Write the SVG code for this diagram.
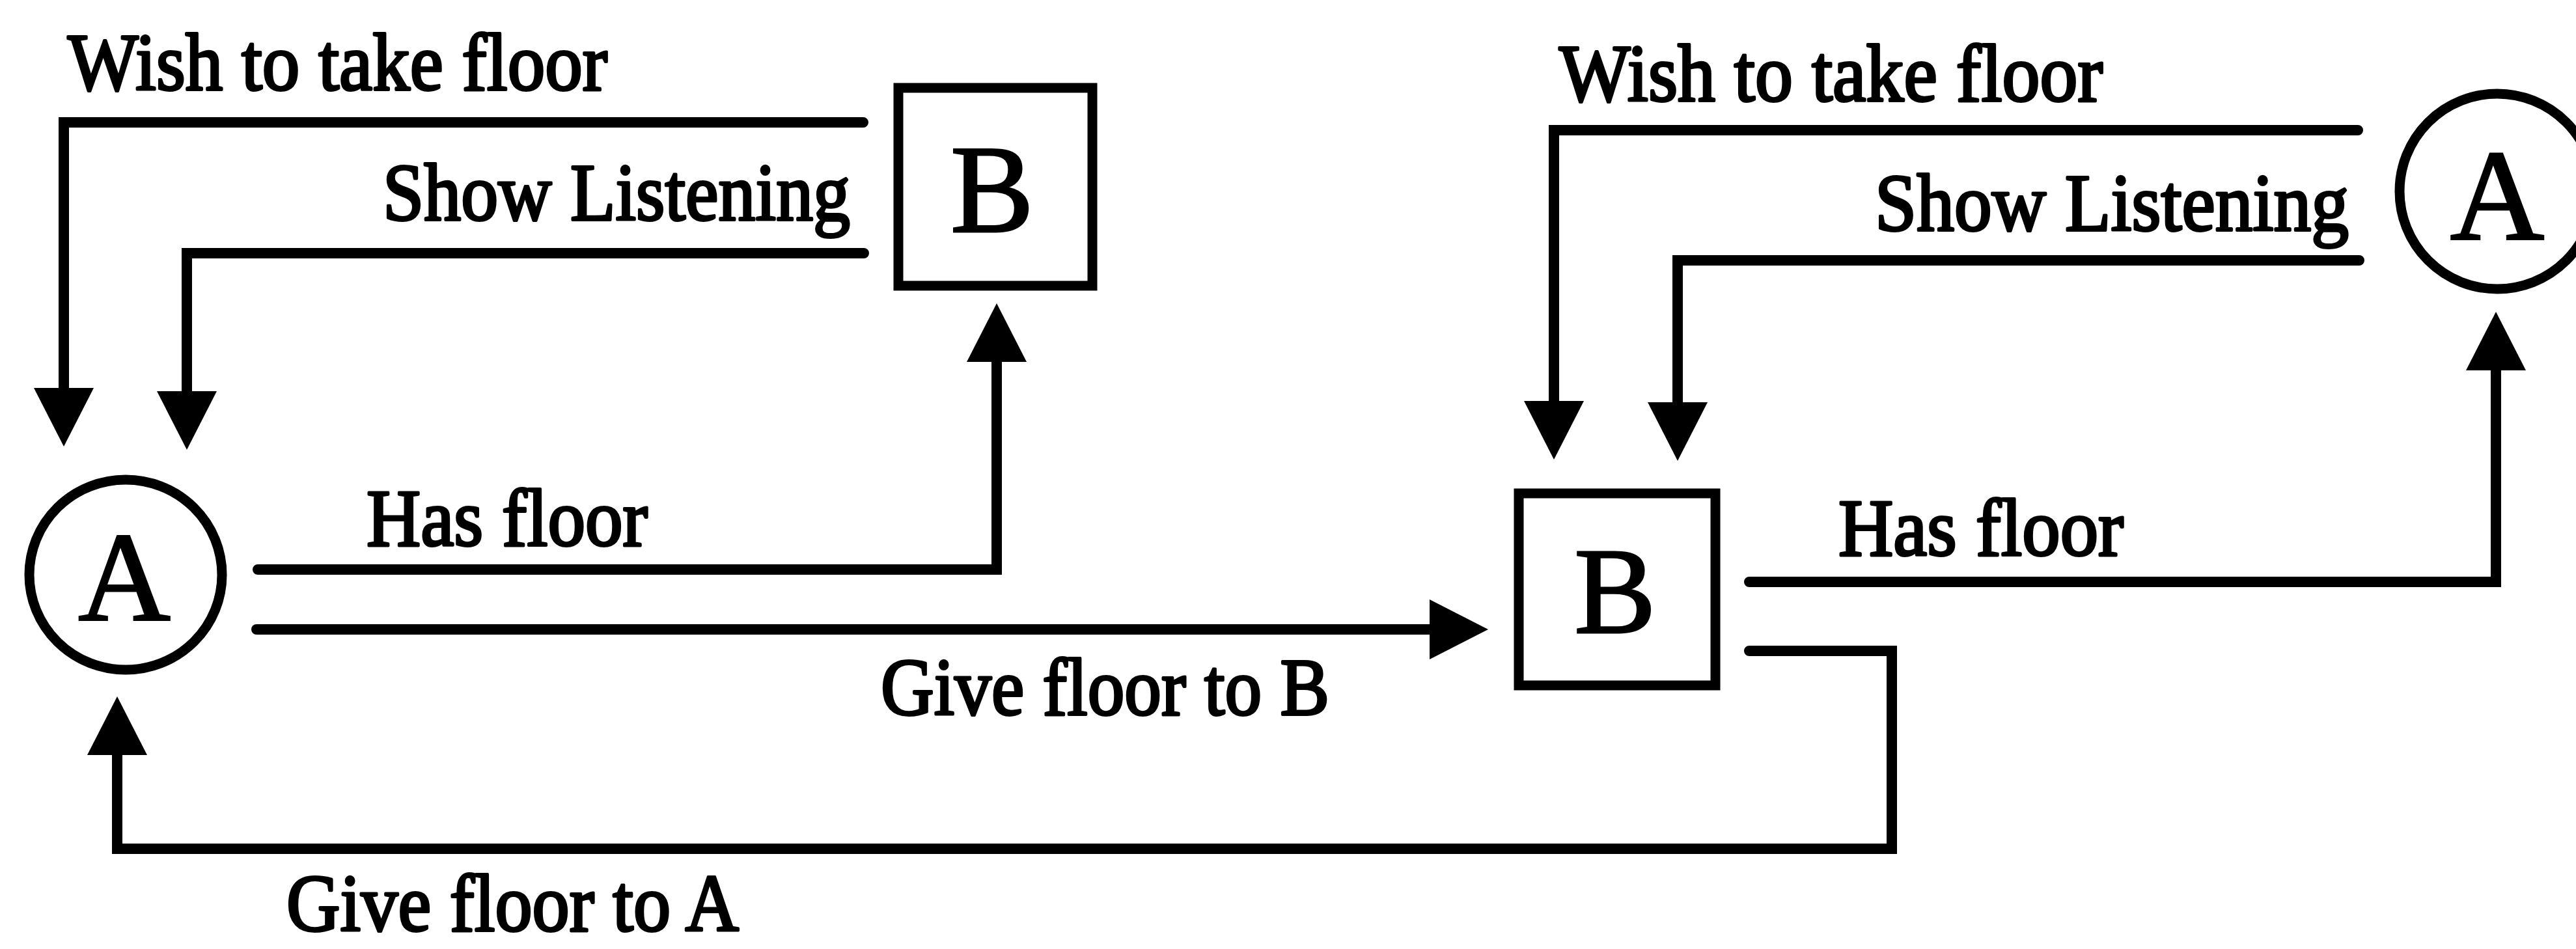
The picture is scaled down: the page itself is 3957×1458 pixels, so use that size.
<svg xmlns="http://www.w3.org/2000/svg" width="3957" height="1458" viewBox="0 0 3957 1458">
  <style>
    .bg { fill: #ffffff; }
    .shape { fill: none; stroke: #000000; stroke-width: 15; }
    .wire { fill: none; stroke: #000000; stroke-width: 16; stroke-linecap: round; stroke-linejoin: miter; }
    .label { font-family: "Liberation Serif", "Times New Roman", serif; font-size: 124px; fill: #000000; stroke: #000000; stroke-width: 4; stroke-linejoin: round; }
    .glyph { font-family: "Liberation Serif", "Times New Roman", serif; fill: #000000; stroke: #000000; stroke-width: 3; text-anchor: middle; }
  </style>
  <defs>
    <marker id="head" viewBox="0 0 90 92" refX="0" refY="46" markerWidth="90" markerHeight="92" markerUnits="userSpaceOnUse" orient="auto">
      <path d="M0,0 L90,46 L0,92 Z" fill="#000000"/>
    </marker>
  </defs>

  <rect class="bg" x="0" y="0" width="3957" height="1458"/>

  <!-- left cluster: A holds the floor, B listens -->
  <g id="node-a-left">
    <ellipse class="shape" cx="193" cy="883" rx="148" ry="146"/>
    <text class="glyph" x="191" y="953" font-size="196">A</text>
  </g>
  <g id="node-b-top">
    <rect class="shape" x="1380" y="135" width="298" height="304"/>
    <text class="glyph" x="1524" y="356" font-size="192">B</text>
  </g>

  <!-- right cluster: B holds the floor, A listens -->
  <g id="node-b-mid">
    <rect class="shape" x="2333" y="758" width="302" height="295"/>
    <text class="glyph" x="2481" y="972" font-size="188">B</text>
  </g>
  <g id="node-a-right">
    <circle class="shape" cx="3836" cy="294" r="150"/>
    <text class="glyph" x="3836" y="367" font-size="200">A</text>
  </g>

  <g id="connectors">
    <!-- left cluster -->
    <path class="wire" d="M1326,188 H98 V596" marker-end="url(#head)"/>
    <path class="wire" d="M1327,389 H287 V601" marker-end="url(#head)"/>
    <path class="wire" d="M396,875 H1531 V556" marker-end="url(#head)"/>
    <path class="wire" d="M394,967 H2196" marker-end="url(#head)"/>
    <path class="wire" d="M2687,1000 H2906 V1304 H180 V1160" marker-end="url(#head)"/>
    <!-- right cluster -->
    <path class="wire" d="M3622,200 H2387 V616" marker-end="url(#head)"/>
    <path class="wire" d="M3624,400 H2577 V618" marker-end="url(#head)"/>
    <path class="wire" d="M2687,894 H3834 V569" marker-end="url(#head)"/>
  </g>

  <g id="labels">
    <text class="label" x="104" y="138" textLength="829" lengthAdjust="spacingAndGlyphs">Wish to take floor</text>
    <text class="label" x="588" y="338" textLength="718" lengthAdjust="spacingAndGlyphs">Show Listening</text>
    <text class="label" x="563" y="838" textLength="432" lengthAdjust="spacingAndGlyphs">Has floor</text>
    <text class="label" x="1353" y="1098" textLength="689" lengthAdjust="spacingAndGlyphs">Give floor to B</text>
    <text class="label" x="440" y="1430" textLength="695" lengthAdjust="spacingAndGlyphs">Give floor to A</text>
    <text class="label" x="2395" y="155" textLength="835" lengthAdjust="spacingAndGlyphs">Wish to take floor</text>
    <text class="label" x="2880" y="354" textLength="728" lengthAdjust="spacingAndGlyphs">Show Listening</text>
    <text class="label" x="2824" y="853" textLength="438" lengthAdjust="spacingAndGlyphs">Has floor</text>
  </g>
</svg>
